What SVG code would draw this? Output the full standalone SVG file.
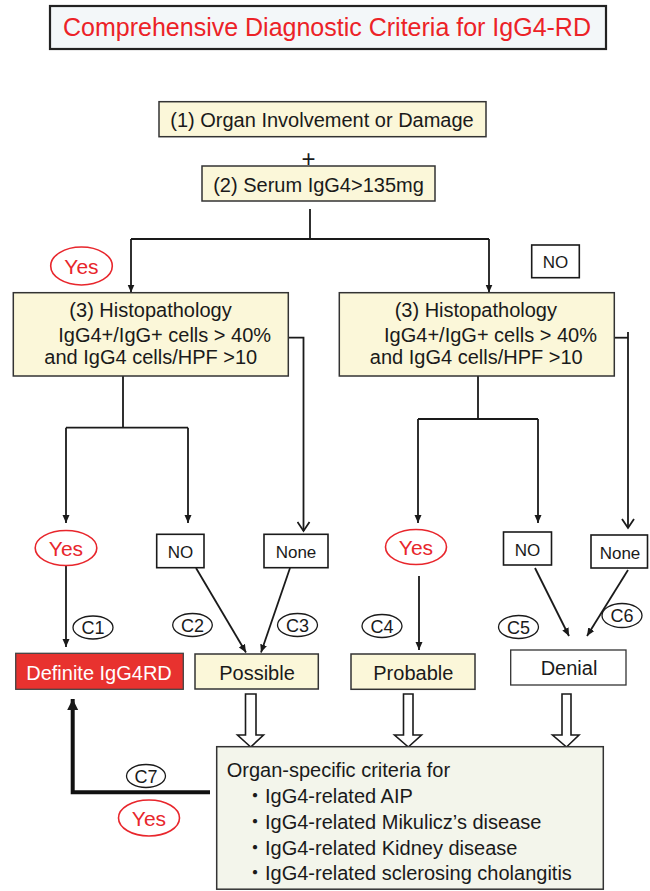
<svg xmlns="http://www.w3.org/2000/svg" width="650" height="891" viewBox="0 0 650 891">
<defs>
<style>
text{font-family:"Liberation Sans",Arial,"Noto Sans CJK JP",sans-serif;fill:#1a1a1a}
.box{fill:#fbf7d9;stroke:#333;stroke-width:1.5}
.wbox{fill:#fff;stroke:#1a1a1a;stroke-width:1.6}
.yes{fill:#fff;stroke:#e8262c;stroke-width:1.6}
.yt{fill:#e8262c;font-size:21px;text-anchor:middle}
.c{fill:#fff;stroke:#1a1a1a;stroke-width:1.3}
.ct{font-size:18px;text-anchor:middle}
.t20{font-size:20px}
.mid{text-anchor:middle}
.ln{fill:none;stroke:#1a1a1a;stroke-width:1.8}
.blk{fill:#fff;stroke:#1a1a1a;stroke-width:1.6}
</style>
<marker id="tri" markerUnits="userSpaceOnUse" markerWidth="8" markerHeight="8" refX="8" refY="4" orient="auto">
<path d="M0,0.5 L8,4 L0,7.5 z" fill="#1a1a1a"/>
</marker>
<marker id="vee" markerUnits="userSpaceOnUse" markerWidth="12" markerHeight="14" refX="10" refY="7" orient="auto">
<path d="M1,1 L10,7 L1,13" fill="none" stroke="#1a1a1a" stroke-width="1.8"/>
</marker>
<marker id="big" markerUnits="userSpaceOnUse" markerWidth="12" markerHeight="12" refX="11" refY="6" orient="auto">
<path d="M0,0.5 L11,6 L0,11.5 z" fill="#1a1a1a"/>
</marker>
</defs>
<rect width="650" height="891" fill="#fff"/>

<g id="title">
<rect x="50" y="6" width="556" height="43" fill="#f3f7f9" stroke="#222" stroke-width="2.2"/>
<text x="327" y="36" class="mid" style="font-size:25px;fill:#ec2227">Comprehensive Diagnostic Criteria for IgG4-RD</text>
</g>

<g id="connectors">
<path class="ln" d="M310,209 V239 M131,239 H489"/>
<path class="ln" d="M131,239 V292.5" marker-end="url(#tri)"/>
<path class="ln" d="M489,239 V292.5" marker-end="url(#tri)"/>
<path class="ln" d="M123,376 V427.7 M66,427.7 H188"/>
<path class="ln" d="M66,427.7 V523" marker-end="url(#tri)"/>
<path class="ln" d="M188,427.7 V523" marker-end="url(#tri)"/>
<path class="ln" d="M288,337.7 H303.5 V531" marker-end="url(#vee)"/>
<path class="ln" d="M478,376 V419 M418,419 H538"/>
<path class="ln" d="M418,419 V523" marker-end="url(#tri)"/>
<path class="ln" d="M538,419 V523" marker-end="url(#tri)"/>
<path class="ln" d="M614,337.7 H628"/>
<path class="ln" d="M628,332 V528" marker-end="url(#vee)"/>
<path class="ln" d="M66,566 V647" marker-end="url(#tri)"/>
<path class="ln" d="M196,568 L246,652.5" marker-end="url(#tri)"/>
<path class="ln" d="M290,568 L261,652.5" marker-end="url(#tri)"/>
<path class="ln" d="M419,576 V650" marker-end="url(#tri)"/>
<path class="ln" d="M535,568 L569,636" marker-end="url(#tri)"/>
<path class="ln" d="M628,570 L587,636" marker-end="url(#tri)"/>
<path class="blk" d="M245.5,694 H256 V735 H263.5 L250.7,747 L237.5,735 H245.5 Z"/>
<path class="blk" d="M403.5,694 H413 V735 H421.5 L408.3,747 L394.5,735 H403.5 Z"/>
<path class="blk" d="M562,694 H571 V735 H579 L566.5,747 L552.5,735 H562 Z"/>
<path d="M210,792.3 H72.7 V699" fill="none" stroke="#111" stroke-width="4" marker-end="url(#big)"/>
</g>

<g id="n1">
<rect class="box" x="159" y="101.7" width="327" height="35"/>
<text x="322" y="127" class="t20 mid">(1) Organ Involvement or Damage</text>
</g>
<g id="n2">
<rect class="box" x="202" y="166" width="233" height="35"/>
<text x="318.5" y="192" class="t20 mid">(2) Serum IgG4&gt;135mg</text>
</g>
<g id="plus">
<text x="308.5" y="167" class="mid" style="font-size:24px">+</text>
</g>

<g id="yes1">
<ellipse class="yes" cx="81.5" cy="266" rx="30.8" ry="19"/>
<text x="81.5" y="273.5" class="yt">Yes</text>
</g>
<g id="no1">
<rect class="wbox" x="531.7" y="245" width="47.6" height="32.7"/>
<text x="555.5" y="267.5" class="mid" style="font-size:17px">NO</text>
</g>

<g id="h3left">
<rect class="box" x="13.3" y="292.7" width="275" height="83.3"/>
<text x="150.5" y="316.7" class="t20 mid">(3) Histopathology</text>
<text x="164.7" y="341.7" class="t20 mid">IgG4+/IgG+ cells &gt; 40%</text>
<text x="150.8" y="364.3" class="t20 mid">and IgG4 cells/HPF &gt;10</text>
</g>
<g id="h3right">
<rect class="box" x="339.3" y="292.7" width="275" height="83.3"/>
<text x="475.8" y="316.7" class="t20 mid">(3) Histopathology</text>
<text x="490.5" y="341.7" class="t20 mid">IgG4+/IgG+ cells &gt; 40%</text>
<text x="476.3" y="364.3" class="t20 mid">and IgG4 cells/HPF &gt;10</text>
</g>

<g id="yes2">
<ellipse class="yes" cx="66" cy="548" rx="30.8" ry="17.5"/>
<text x="66" y="555.5" class="yt">Yes</text>
</g>
<g id="no2">
<rect class="wbox" x="156.7" y="534.3" width="47.3" height="33.4"/>
<text x="180.4" y="557.5" class="mid" style="font-size:17px">NO</text>
</g>
<g id="none1">
<rect class="wbox" x="264" y="534.3" width="64" height="33.4"/>
<text x="296" y="557.5" class="mid" style="font-size:17px">None</text>
</g>
<g id="yes3">
<ellipse class="yes" cx="416" cy="547" rx="30.5" ry="17.5"/>
<text x="416" y="554.5" class="yt">Yes</text>
</g>
<g id="no3">
<rect class="wbox" x="503.5" y="532" width="48" height="33"/>
<text x="527.5" y="555.5" class="mid" style="font-size:17px">NO</text>
</g>
<g id="none2">
<rect class="wbox" x="591" y="535" width="56.5" height="33"/>
<text x="620" y="558.5" class="mid" style="font-size:17px">None</text>
</g>

<g id="c1"><ellipse class="c" cx="93" cy="627.5" rx="20" ry="11.5"/><text x="93" y="634" class="ct">C1</text></g>
<g id="c2"><ellipse class="c" cx="192.5" cy="625" rx="19.8" ry="11.5"/><text x="192.5" y="631.5" class="ct">C2</text></g>
<g id="c3"><ellipse class="c" cx="297.5" cy="625" rx="20" ry="11.5"/><text x="297.5" y="631.5" class="ct">C3</text></g>
<g id="c4"><ellipse class="c" cx="382" cy="626" rx="20" ry="11.5"/><text x="382" y="632.5" class="ct">C4</text></g>
<g id="c5"><ellipse class="c" cx="518.5" cy="627" rx="20" ry="11.5"/><text x="518.5" y="633.5" class="ct">C5</text></g>
<g id="c6"><ellipse class="c" cx="622" cy="615.5" rx="20" ry="12"/><text x="622" y="622" class="ct">C6</text></g>
<g id="c7"><ellipse class="c" cx="146" cy="776" rx="19.5" ry="11.5"/><text x="146" y="782.5" class="ct">C7</text></g>

<g id="definite">
<rect x="15.7" y="653.3" width="167.6" height="36" fill="#e8322f" stroke="#444" stroke-width="1.3"/>
<text x="99" y="679.5" class="t20 mid" style="fill:#fff">Definite IgG4RD</text>
</g>
<g id="possible">
<rect class="box" x="195" y="654" width="123.3" height="35"/>
<text x="257" y="679.5" class="t20 mid">Possible</text>
</g>
<g id="probable">
<rect class="box" x="351" y="654" width="124" height="35.3"/>
<text x="413.3" y="679.5" class="t20 mid">Probable</text>
</g>
<g id="denial">
<rect class="wbox" x="510.7" y="650" width="115.3" height="35" style="stroke:#333;stroke-width:1.3"/>
<text x="569" y="675" class="t20 mid">Denial</text>
</g>

<g id="yes4">
<ellipse class="yes" cx="149" cy="818" rx="30.5" ry="18"/>
<text x="149" y="825.5" class="yt">Yes</text>
</g>

<g id="organ">
<rect x="216.7" y="746.7" width="386.6" height="142.5" fill="#f3f5eb" stroke="#333" stroke-width="1.5"/>
<text x="226.7" y="777" class="t20">Organ-specific criteria for</text>
<text x="245" y="803" class="t20">・IgG4-related AIP</text>
<text x="245" y="829" class="t20">・IgG4-related Mikulicz’s disease</text>
<text x="245" y="854.5" class="t20">・IgG4-related Kidney disease</text>
<text x="245" y="880" class="t20">・IgG4-related sclerosing cholangitis</text>
</g>
</svg>
